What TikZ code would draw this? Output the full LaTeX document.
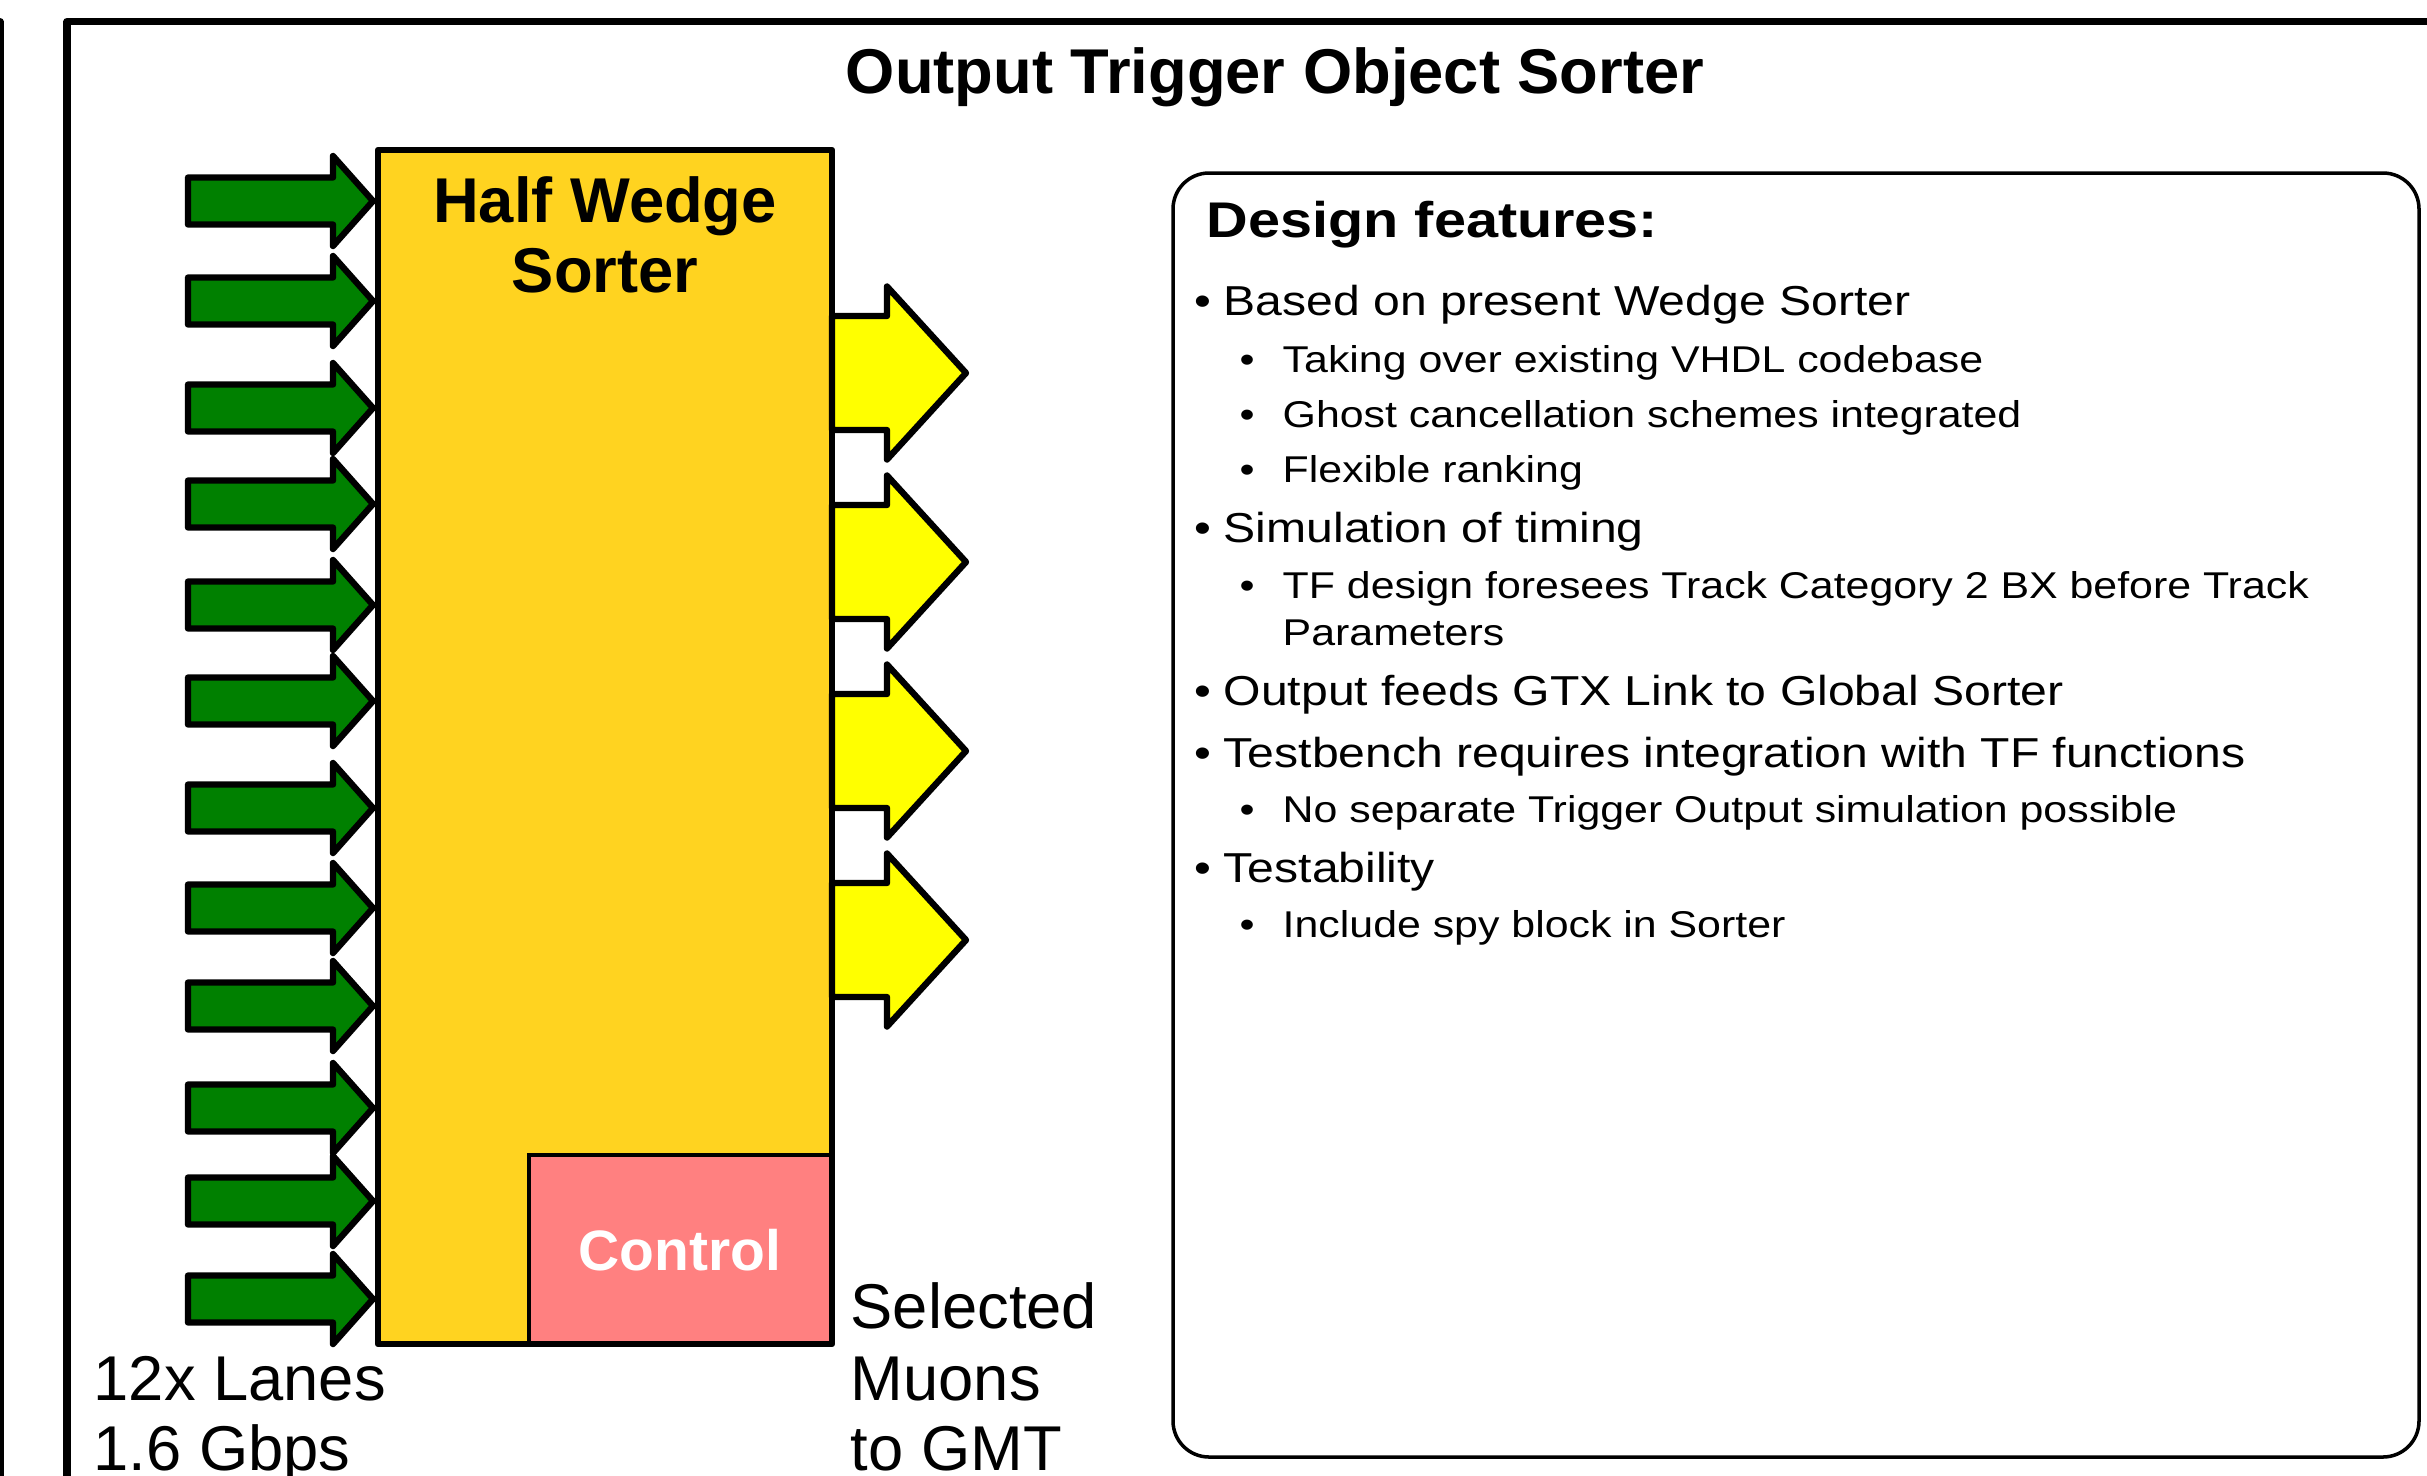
\documentclass[tikz,border=0pt]{standalone}
\usepackage{fontspec}
\setmainfont{Liberation Sans}
\newfontfamily\panelfont[FakeStretch=1.15]{Liberation Sans}

\definecolor{sorterfill}{HTML}{FFD320}
\definecolor{lanegreen}{HTML}{008000}
\definecolor{outyellow}{HTML}{FFFF00}
\definecolor{ctrlpink}{HTML}{FF8080}

\tikzset{
  frameline/.style={line width=2pt, line join=round},
  inarrow/.style={draw=black, fill=lanegreen, line width=1.8pt, line join=round},
  outarrow/.style={draw=black, fill=outyellow, line width=1.8pt, line join=round},
  sorteredge/.style={draw=black, line width=1.8pt, line join=round},
  ctrlbox/.style={draw=black, fill=ctrlpink, line width=1pt},
  panelbox/.style={draw=black, line width=1pt, rounded corners=0.36cm},
  headtext/.style={font=\bfseries\fontsize{18}{22}\selectfont, inner sep=0pt, anchor=base},
  sidetext/.style={font=\fontsize{18}{22}\selectfont, inner sep=0pt, anchor=base west},
  ctrltext/.style={font=\bfseries\fontsize{16.2}{20}\selectfont, text=white, inner sep=0pt, anchor=base},
  panelhead/.style={font=\panelfont\bfseries\fontsize{14.25}{17}\selectfont, inner sep=0pt, anchor=base west},
  itemone/.style={font=\panelfont\fontsize{11.9}{14}\selectfont, inner sep=0pt, anchor=base west},
  itemtwo/.style={font=\panelfont\fontsize{10.6}{13}\selectfont, inner sep=0pt, anchor=base west},
  dotone/.style={font=\panelfont\fontsize{11.9}{14}\selectfont, inner sep=0pt, anchor=base},
  dottwo/.style={font=\panelfont\fontsize{10.6}{13}\selectfont, inner sep=0pt, anchor=base},
  pics/lanearrow/.style={code={
    \draw[inarrow] (-185,-23.5) -- (-40,-23.5) -- (-40,-45) -- (0,0)
      -- (-40,45) -- (-40,23.5) -- (-185,23.5) -- cycle;}},
  pics/muonarrow/.style={code={
    \draw[outarrow] (-134,-57) -- (-79,-57) -- (-79,-86.5) -- (0,0)
      -- (-79,86.5) -- (-79,57) -- (-134,57) -- cycle;}},
}

\begin{document}
\begin{tikzpicture}[x=0.01cm, y=-0.01cm]
\useasboundingbox (0,0) rectangle (2427,1475);

% slide frames
\draw[frameline] (-50,21.5) -- (0,21.5) -- (0,1520);
\draw[frameline] (67,1520) -- (67,21.5) -- (2500,21.5);

\node[headtext] (title) at (1275,93) {Output Trigger Object Sorter};

% sorter block with its control unit
\fill[sorterfill] (378,150) rectangle (832,1344);
\draw[ctrlbox] (529,1155) rectangle (832,1344);

% 12 input lanes
\foreach \ly [count=\i] in {201,301,408,504,605,701,808,908,1006,1108,1201,1299}
  \pic (lane\i) at (373,\ly) {lanearrow};

% 4 output links
\foreach \i in {0,...,3}
  \pic (out\i) at (966,{373+189*\i}) {muonarrow};

\draw[sorteredge] (378,150) rectangle (832,1344);

\node[headtext] (hw1) at (605,222) {Half Wedge};
\node[headtext] (hw2) at (605,292) {Sorter};
\node[ctrltext] (control) at (680,1270) {Control};

\node[sidetext] (lanes1) at (93,1400) {12x Lanes};
\node[sidetext] (lanes2) at (93,1470) {1.6 Gbps};

\node[sidetext] (sel1) at (850,1328) {Selected};
\node[sidetext] (sel2) at (850,1400) {Muons};
\node[sidetext] (sel3) at (850,1470) {to GMT};

% design features panel
\draw[panelbox] (1173,173) rectangle (2419,1457);
\node[panelhead] (dfhead) at (1206,237) {Design features:};

\node[dotone] (b1) at (1203,315) {•};
\node[itemone] (t1) at (1223,315) {Based on present Wedge Sorter};
\node[dottwo] (b2) at (1247,372) {•};
\node[itemtwo] (t2) at (1282,372) {Taking over existing VHDL codebase};
\node[dottwo] (b3) at (1247,427) {•};
\node[itemtwo] (t3) at (1282,427) {Ghost cancellation schemes integrated};
\node[dottwo] (b4) at (1247,482) {•};
\node[itemtwo] (t4) at (1282,482) {Flexible ranking};
\node[dotone] (b5) at (1203,542) {•};
\node[itemone] (t5) at (1223,542) {Simulation of timing};
\node[dottwo] (b6) at (1247,598) {•};
\node[itemtwo] (t6) at (1282,598) {TF design foresees Track Category 2 BX before Track};
\node[itemtwo] (t6b) at (1282,645) {Parameters};
\node[dotone] (b7) at (1203,705) {•};
\node[itemone] (t7) at (1223,705) {Output feeds GTX Link to Global Sorter};
\node[dotone] (b8) at (1203,767) {•};
\node[itemone] (t8) at (1223,767) {Testbench requires integration with TF functions};
\node[dottwo] (b9) at (1247,822) {•};
\node[itemtwo] (t9) at (1282,822) {No separate Trigger Output simulation possible};
\node[dotone] (b10) at (1203,882) {•};
\node[itemone] (t10) at (1223,882) {Testability};
\node[dottwo] (b11) at (1247,937) {•};
\node[itemtwo] (t11) at (1282,937) {Include spy block in Sorter};
\end{tikzpicture}
\end{document}
